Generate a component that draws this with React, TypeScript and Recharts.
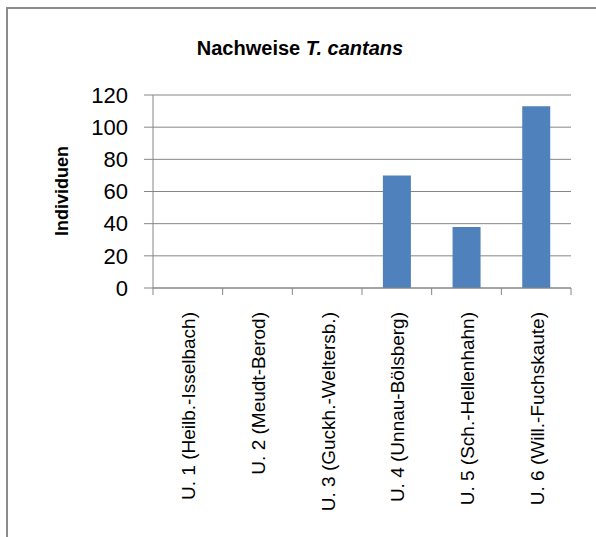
import React from "react";
import { BarChart, Bar, XAxis, YAxis, CartesianGrid } from "recharts";

const categories = [
  "U. 1 (Heilb.-Isselbach)",
  "U. 2 (Meudt-Berod)",
  "U. 3 (Guckh.-Weltersb.)",
  "U. 4 (Unnau-Bölsberg)",
  "U. 5 (Sch.-Hellenhahn)",
  "U. 6 (Will.-Fuchskaute)",
];
const individuen = [0, 0, 0, 70, 38, 113];
const yTicks = [0, 20, 40, 60, 80, 100, 120];

const data = categories.map((c, i) => ({ name: c, value: individuen[i] }));

const FONT = "'Liberation Sans', Arial, sans-serif";
const GRAY = "#868686";
const BAND = (571 - 153) / categories.length;

const CatTick = (props: any) => {
  const { x, y, payload, index } = props;
  const left = x - BAND / 2;
  const right = x + BAND / 2;
  return (
    <g>
      <line x1={left} y1={y} x2={left} y2={y + 7} stroke={GRAY} strokeWidth={1} />
      {index === categories.length - 1 && (
        <line x1={right} y1={y} x2={right} y2={y + 7} stroke={GRAY} strokeWidth={1} />
      )}
      <text
        x={x + 1}
        y={y + 24}
        transform={`rotate(-90, ${x + 1}, ${y + 24})`}
        textAnchor="end"
        dominantBaseline="central"
        fontSize={19}
        fontFamily={FONT}
        fill="#000"
      >
        {payload.value}
      </text>
    </g>
  );
};

const YLabel = () => (
  <text
    x={68}
    y={191}
    transform="rotate(-90, 68, 191)"
    textAnchor="middle"
    fontSize={18}
    fontWeight="bold"
    fontFamily={FONT}
    fill="#000"
  >
    Individuen
  </text>
);

export default function App() {
  return (
    <div style={{ position: "absolute", left: 0, top: 0, width: 596, height: 537, background: "#fff", overflow: "hidden" }}>
      <div
        style={{
          position: "absolute",
          left: 6,
          top: 7,
          width: 620,
          height: 560,
          border: "2px solid #8c8c8c",
          boxSizing: "border-box",
        }}
      />
      <div
        style={{
          position: "absolute",
          left: 0,
          width: 596,
          top: 37,
          textAlign: "center",
          fontFamily: FONT,
          fontWeight: "bold",
          fontSize: 20,
          color: "#000",
          paddingLeft: 2,
        }}
      >
        Nachweise <i>T. cantans</i>
      </div>
      <div style={{ position: "absolute", left: 0, top: 0 }}>
        <BarChart
          width={596}
          height={537}
          data={data}
          margin={{ top: 95, right: 25, left: 53, bottom: 0 }}
          barCategoryGap="30%"
        >
          <CartesianGrid vertical={false} stroke={GRAY} strokeWidth={1} />
          <XAxis
            dataKey="name"
            interval={0}
            height={249}
            axisLine={{ stroke: GRAY }}
            tickLine={false}
            tickSize={0}
            tickMargin={0}
            tick={<CatTick />}
          />
          <YAxis
            width={100}
            domain={[0, 120]}
            ticks={yTicks}
            interval={0}
            axisLine={{ stroke: GRAY }}
            tickLine={{ stroke: GRAY }}
            tickSize={9}
            tickMargin={16}
            tick={{ fontSize: 22, fontFamily: FONT, fill: "#000" }}
            label={{ content: <YLabel /> }}
          />
          <Bar dataKey="value" fill="#4f81bd" isAnimationActive={false} />
        </BarChart>
      </div>
    </div>
  );
}
